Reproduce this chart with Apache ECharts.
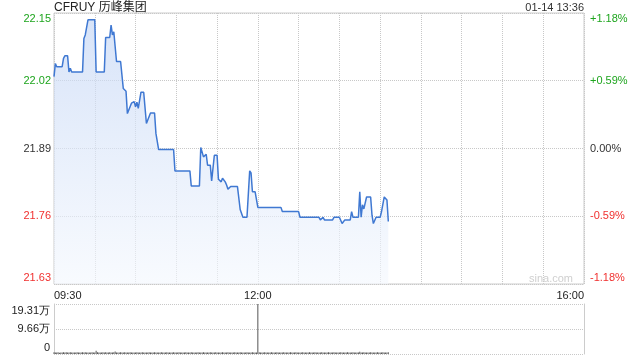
<!DOCTYPE html>
<html><head><meta charset="utf-8">
<script src="https://cdn.jsdelivr.net/npm/echarts@6/dist/echarts.min.js"></script>
<style>html,body{margin:0;padding:0;background:#fff}#c{width:640px;height:360px}</style>
</head><body><div id="c"></div>
<script>
const titleText = 'CFRUY 历峰集团';
const stampText = '01-14 13:36';
const prevClose = 21.89;
const priceTicks = [21.63, 21.76, 21.89, 22.02, 22.15];
const pctLabels = ['-1.18%', '-0.59%', '0.00%', '+0.59%', '+1.18%'];
const timeTicks = [0, 150, 390];
const timeLabels = ['09:30', '12:00', '16:00'];
const volTicks = [0, 96600, 193100];
const volLabels = ['0', '9.66万', '19.31万'];

// minutes after 09:30 and price at that minute
const priceMinutes = [0,1,2,6,7,8,10,11,12,13,21,22,23,25,30,31,37,38,41,42,43,44,46,49,51,53,54,57,59,60,61,62,64,66,68,71,74,75,77,88,89,100,101,107,108,110,112,113,115,116,118,120,121,123,124,126,127,128,130,135,137,138,139,142,144,145,146,148,150,167,168,180,181,195,196,198,199,205,206,210,212,214,218,219,220,224,225,226,227,228,230,233,234,235,237,240,241,243,245,246];
const priceValues = [22.028,22.053,22.047,22.047,22.063,22.068,22.068,22.037,22.044,22.037,22.037,22.101,22.108,22.137,22.137,22.037,22.037,22.103,22.103,22.127,22.108,22.114,22.057,22.057,22.005,22.0,21.957,21.977,21.980,21.970,21.979,21.967,21.998,21.998,21.938,21.958,21.958,21.919,21.888,21.888,21.847,21.847,21.818,21.818,21.892,21.874,21.879,21.858,21.858,21.828,21.877,21.877,21.831,21.826,21.833,21.826,21.820,21.812,21.817,21.817,21.773,21.772,21.758,21.758,21.847,21.843,21.807,21.807,21.777,21.777,21.769,21.769,21.758,21.758,21.753,21.758,21.753,21.753,21.758,21.758,21.746,21.753,21.753,21.769,21.758,21.758,21.807,21.758,21.782,21.774,21.797,21.797,21.762,21.746,21.758,21.758,21.769,21.797,21.791,21.750];

// per-minute volume from 09:30
const volumeValues = [
6400,5600,5900,6800,5300,6100,5700,7000,5500,6300,5800,5400,6500,5600,6200,5500,6000,6900,5700,6100,
5600,6300,5900,6500,5400,6200,5800,6000,6400,5600,6100,13000,6500,5700,6200,5900,6600,5600,6300,6000,
5700,6400,6100,5500,6700,9500,5900,6200,5600,6500,6000,5700,6300,5900,6100,5500,6400,6000,5600,6200,
5900,6500,5700,6100,5600,6300,6000,5500,6200,5900,6400,5700,6100,5600,6500,5900,6200,5700,6000,6300,
5600,6100,5900,6400,5500,6200,6000,5700,6300,5900,6100,5600,6500,5700,6200,6000,5500,6400,5900,6100,
5700,6300,6000,5600,6200,5900,6500,5700,6100,5900,6400,5600,6200,6000,5700,6300,5900,6100,5600,6500,
5900,6200,5700,6000,6400,5600,6100,5900,6300,5700,6200,6000,5500,6400,5900,6100,5600,6300,6000,5700,
6200,5900,6500,5600,6100,6000,6300,5700,6200,5900,193100,6400,5700,6100,5900,6300,5600,6200,6000,5700,
6400,5900,6100,5600,6300,6000,5700,6200,5900,6500,5600,6100,6000,5700,6300,5900,6200,5600,6400,6000,
5700,6100,5900,6300,5600,6200,6000,5700,6400,5900,6100,5600,6300,6000,5700,6200,5900,6500,5600,6100,
6000,5700,6300,5900,6200,5600,6400,6000,5700,6100,5900,6300,5600,6200,6000,5700,6400,5900,6100,5600,
6300,6000,5700,6200,5900,9000,6100,5600,6300,6000,5700,6200,5900,6400,5600,6100,6000,5700,6300,5900,
6200,5600,6400,6000,5700,6100,6500
];

const GREEN = '#1ea51e', RED = '#f0302f', DARK = '#333333';
function priceStyle(v) { return v > prevClose + 1e-9 ? 'g' : (v < prevClose - 1e-9 ? 'r' : 'd'); }
function edgeSuffix(v) { return v === priceTicks[priceTicks.length - 1] ? 'T' : (v === priceTicks[0] ? 'B' : ''); }
const richPrice = {
  g: { color: GREEN }, r: { color: RED }, d: { color: DARK },
  gT: { color: GREEN, padding: [12, 0, 0, 0] }, rT: { color: RED, padding: [12, 0, 0, 0] },
  gB: { color: GREEN, padding: [0, 0, 12, 0] }, rB: { color: RED, padding: [0, 0, 12, 0] }
};
const baseFont = { fontFamily: 'Liberation Sans, Arial, sans-serif', fontSize: 11 };

const chart = echarts.init(document.getElementById('c'), null, { renderer: 'canvas' });
chart.setOption({
  animation: false,
  backgroundColor: '#fff',
  graphic: [
    { type: 'text', x: 54, y: 8, style: { text: titleText, fill: '#222', font: '12px "Liberation Sans", "Noto Sans CJK SC", sans-serif', textVerticalAlign: 'middle' } },
    { type: 'text', x: 584, y: 8, style: { text: stampText, fill: '#333', font: '11px "Liberation Sans", sans-serif', textAlign: 'right', textVerticalAlign: 'middle' } },
    { type: 'text', x: 573, y: 279, z: 10, style: { text: 'sina.com', fill: '#cfcfcf', font: '11px "Liberation Sans", sans-serif', textAlign: 'right', textVerticalAlign: 'middle' } }
  ],
  grid: [
    { left: 54, right: 56, top: 13, height: 271, show: true, borderColor: '#cccccc', borderWidth: 1, backgroundColor: 'transparent' },
    { left: 54, right: 56, top: 304, height: 50 }
  ],
  xAxis: [
    {
      type: 'value', gridIndex: 0, min: 0, max: 390, interval: 30,
      axisLine: { show: false }, axisTick: { show: false },
      splitLine: { show: true, lineStyle: { type: 'dotted', color: '#c8c8c8' } },
      axisLabel: {
        customValues: timeTicks, margin: 6, color: '#222', ...baseFont,
        alignMinLabel: 'left', alignMaxLabel: 'right',
        formatter: v => timeLabels[timeTicks.indexOf(v)]
      }
    },
    {
      type: 'value', gridIndex: 1, min: 0, max: 390,
      axisLine: { show: false }, axisTick: { show: false }, axisLabel: { show: false }, splitLine: { show: false }
    }
  ],
  yAxis: [
    {
      type: 'value', gridIndex: 0, min: priceTicks[0], max: priceTicks[priceTicks.length - 1],
      axisLine: { show: false }, axisTick: { show: false, customValues: priceTicks },
      splitLine: { show: true, lineStyle: { type: 'dotted', color: '#c8c8c8' } },
      axisLabel: {
        customValues: priceTicks, margin: 3, ...baseFont, rich: richPrice,
        formatter: v => '{' + priceStyle(v) + edgeSuffix(v) + '|' + v.toFixed(2) + '}'
      }
    },
    {
      type: 'value', gridIndex: 0, position: 'right', min: priceTicks[0], max: priceTicks[priceTicks.length - 1],
      axisLine: { show: false }, axisTick: { show: false, customValues: priceTicks }, splitLine: { show: false },
      axisLabel: {
        customValues: priceTicks, margin: 6, ...baseFont, rich: richPrice,
        formatter: v => '{' + priceStyle(v) + edgeSuffix(v) + '|' + pctLabels[priceTicks.indexOf(v)] + '}'
      }
    },
    {
      type: 'value', gridIndex: 1, min: volTicks[0], max: volTicks[volTicks.length - 1],
      axisLine: { show: true, lineStyle: { color: '#cccccc' } }, axisTick: { show: false, customValues: volTicks },
      splitLine: { show: true, lineStyle: { type: 'dotted', color: '#c8c8c8' } },
      axisLabel: {
        customValues: volTicks, margin: 4, color: '#222', ...baseFont,
        rich: { t: { padding: [14, 0, 0, 0] }, b: { padding: [0, 0, 12, 0] }, m: {} },
        formatter: v => {
          const i = volTicks.indexOf(v);
          const k = i === volTicks.length - 1 ? 't' : (i === 0 ? 'b' : 'm');
          return '{' + k + '|' + volLabels[i] + '}';
        }
      }
    },
    {
      type: 'value', gridIndex: 1, position: 'right', min: volTicks[0], max: volTicks[volTicks.length - 1],
      axisLine: { show: true, lineStyle: { color: '#cccccc' } }, axisTick: { show: false },
      axisLabel: { show: false }, splitLine: { show: false }
    }
  ],
  series: [
    {
      type: 'line', xAxisIndex: 0, yAxisIndex: 0, showSymbol: false, symbol: 'none',
      data: priceMinutes.map((m, i) => [m, priceValues[i]]),
      lineStyle: { color: '#3f78d2', width: 1.5 },
      areaStyle: {
        origin: 'start',
        color: new echarts.graphic.LinearGradient(0, 0, 0, 1, [
          { offset: 0, color: 'rgba(196,214,245,0.95)' },
          { offset: 1, color: 'rgba(244,248,254,0.9)' }
        ])
      }
    },
    {
      type: 'bar', xAxisIndex: 1, yAxisIndex: 2, barWidth: 1,
      data: volumeValues.map((v, i) => [i, v]),
      itemStyle: { color: '#555555' }
    }
  ]
});
</script>
</body></html>
